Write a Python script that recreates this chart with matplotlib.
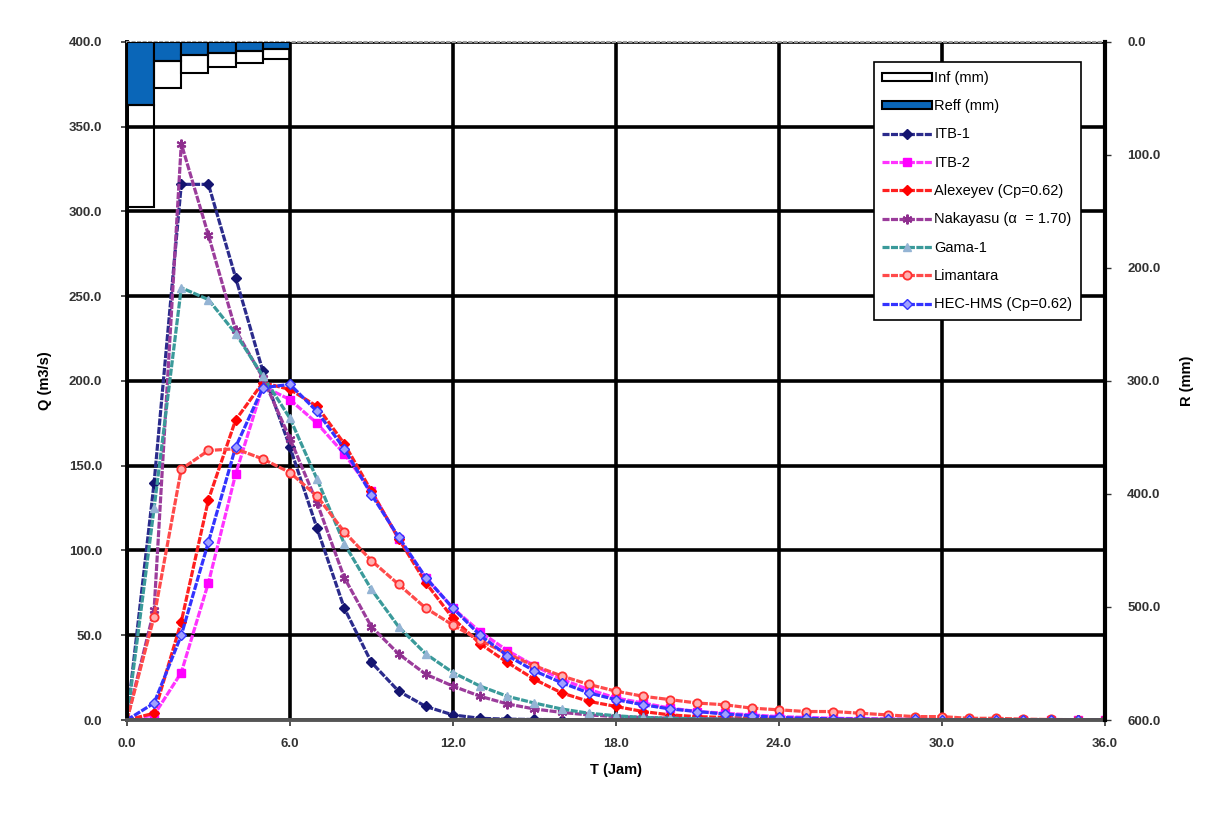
import matplotlib
matplotlib.use('Agg')
import matplotlib.pyplot as plt
from matplotlib.ticker import FormatStrFormatter, MultipleLocator

plt.rcParams['font.family'] = ['Liberation Sans', 'DejaVu Sans']

# time (jam)
t = list(range(37))

itb1 = [0, 140, 316, 316, 261, 206, 161, 113, 66, 34, 17, 8, 3, 1, 0.5, 0.3, 0.2, 0.1,
        0, 0, 0, 0, 0, 0, 0, 0, 0, 0, 0, 0, 0, 0, 0, 0, 0, 0, 0]
itb2 = [0, 3, 28, 81, 145, 197, 189, 175, 157, 135, 107, 84, 66, 52, 41, 32, 24, 18, 13, 10,
        7, 5, 4, 3, 2, 1.5, 1, 0.8, 0.6, 0.4, 0.3, 0.2, 0.2, 0.1, 0.1, 0, 0]
alexeyev = [0, 4, 58, 130, 177, 199, 195, 185, 163, 135, 107, 81, 60, 45, 34, 24, 16, 11, 8, 5,
            3, 2, 1.5, 1, 0.5, 0.3, 0.2, 0.1, 0.1, 0, 0, 0, 0, 0, 0, 0, 0]
nakayasu = [0, 65, 340, 286, 230, 202, 166, 128, 84, 55, 39, 27, 20, 14, 9.5, 6.5, 4.5, 3, 2, 1.5,
            1, 0.8, 0.6, 0.5, 0.4, 0.3, 0.2, 0.2, 0.1, 0.1, 0.1, 0, 0, 0, 0, 0, 0]
gama1 = [0, 125, 255, 248, 228, 203, 178, 142, 104, 77, 55, 39, 28, 20, 14, 10, 6.5, 4, 2.5, 1.5,
         1, 0.7, 0.5, 0.3, 0.2, 0.1, 0, 0, 0, 0, 0, 0, 0, 0, 0, 0, 0]
limantara = [0, 61, 148, 159, 160, 154, 146, 132, 111, 94, 80, 66, 56, 47, 39, 32, 26, 21, 17, 14,
             12, 10, 9, 7, 6, 5, 5, 4, 3, 2, 2, 1, 1, 0.5, 0.3, 0.2, 0]
hec = [0, 10, 50, 105, 161, 196, 198, 182, 160, 133, 108, 84, 66, 50, 38, 29, 22, 16, 12, 9,
       6.5, 5, 3.5, 2.5, 1.5, 1, 0.7, 0.5, 0.4, 0.3, 0.2, 0.2, 0.1, 0.1, 0, 0, 0]

# hujan (mm), jam ke-1 s/d 6
t_rain = [0.5, 1.5, 2.5, 3.5, 4.5, 5.5]
reff = [55.7, 16.5, 11.5, 10.0, 7.7, 6.5]
inf = [90.0, 24.5, 16.2, 12.4, 11.2, 8.8]

fig = plt.figure(figsize=(12.29, 8.18), dpi=100)
ax = fig.add_axes([0.1033, 0.1198, 0.7957, 0.8289])

ls = (0, (2.2, 0.45))
ax.plot(t, itb1, color='#2B2B8C', lw=2.3, ls=ls, marker='D', ms=5, mfc='#141470', mec='#141470', label='ITB-1')
ax.plot(t, itb2, color='#FF33FF', lw=2.3, ls=ls, marker='s', ms=6, mfc='#FF00FF', mec='#FF00FF', label='ITB-2')
ax.plot(t, alexeyev, color='#FF2020', lw=2.3, ls=ls, marker='D', ms=5, mfc='#FF0000', mec='#FF0000', label='Alexeyev (Cp=0.62)')
ax.plot(t, nakayasu, color='#9B3C9B', lw=2.3, ls=ls, marker=(6, 2, 0), ms=7, mec='#8E2E8E', mew=1.5, label='Nakayasu (\u03b1  = 1.70)')
ax.plot(t, gama1, color='#3A9A9A', lw=2.3, ls=ls, marker='^', ms=6, mfc='#94B4D4', mec='#94B4D4', label='Gama-1')
ax.plot(t, limantara, color='#FF4A4A', lw=2.3, ls=ls, marker='o', ms=6, mfc='#FFB0B0', mec='#FF3030', mew=1.3, label='Limantara')
ax.plot(t, hec, color='#3333FF', lw=2.3, ls=ls, marker='D', ms=5, mfc='#A0A0FF', mec='#3333FF', label='HEC-HMS (Cp=0.62)')

ax.set_xlim(0, 36)
ax.set_ylim(0, 400)
ax.xaxis.set_major_locator(MultipleLocator(6))
ax.yaxis.set_major_locator(MultipleLocator(50))
ax.xaxis.set_major_formatter(FormatStrFormatter('%.1f'))
ax.yaxis.set_major_formatter(FormatStrFormatter('%.1f'))
ax.grid(True, color='black', lw=2.6)
ax.set_axisbelow(True)
ax.tick_params(labelsize=9.5, length=4, width=1.2, colors='#333333')
ax.tick_params(axis='x', pad=9)
ax.tick_params(axis='y', pad=14)
for lab in ax.get_xticklabels() + ax.get_yticklabels():
    lab.set_fontweight('bold')
ax.set_xlabel('T (Jam)', fontsize=10.5, fontweight='bold', labelpad=9)
ax.set_ylabel('Q (m3/s)', fontsize=10.5, fontweight='bold', labelpad=12)

ax.spines['left'].set_color('black')
ax.spines['left'].set_linewidth(2.8)
ax.spines['bottom'].set_color('#555555')
ax.spines['bottom'].set_linewidth(2.8)
ax.spines['top'].set_color('#999999')
ax.spines['top'].set_linestyle(':')
ax.spines['top'].set_linewidth(1.5)
ax.spines['right'].set_visible(False)

ax2 = ax.twinx()
b1 = ax2.bar(t_rain, reff, width=1.0, color='#0A66B8', edgecolor='black', lw=1.5, label='Reff (mm)')
b2 = ax2.bar(t_rain, inf, width=1.0, bottom=reff, facecolor='none', edgecolor='black', lw=1.5, label='Inf (mm)')
ax2.set_ylim(600, 0)
ax2.yaxis.set_major_locator(MultipleLocator(100))
ax2.yaxis.set_major_formatter(FormatStrFormatter('%.1f'))
ax2.tick_params(labelsize=9.5, length=4, width=1, colors='#333333', pad=12)
for lab in ax2.get_yticklabels():
    lab.set_fontweight('bold')
ax2.set_ylabel('R (mm)', fontsize=10.5, fontweight='bold', labelpad=14)
ax2.spines['right'].set_color('black')
ax2.spines['right'].set_linewidth(3)
for s in ['top', 'left', 'bottom']:
    ax2.spines[s].set_visible(False)

lines, labels = ax.get_legend_handles_labels()
inf_patch = plt.Rectangle((0, 0), 1, 1, facecolor='white', edgecolor='black', lw=1.5)
leg = ax2.legend([inf_patch, b1] + lines, ['Inf (mm)', 'Reff (mm)'] + labels,
                 loc='upper right', bbox_to_anchor=(0.983, 0.981), fontsize=10.5,
                 frameon=True, fancybox=False, edgecolor='black', framealpha=1,
                 handlelength=3.4, handleheight=0.5, handletextpad=0.15, labelspacing=0.98,
                 borderpad=0.6)
leg.get_frame().set_linewidth(1.2)

fig.savefig('out.png', dpi=100)
